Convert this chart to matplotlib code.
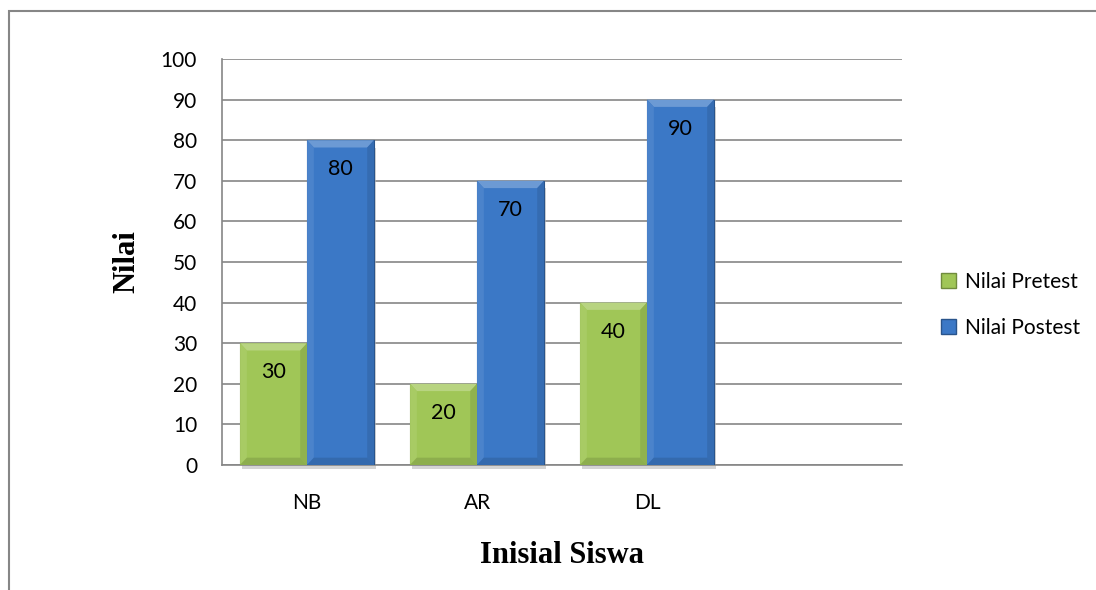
import numpy as np
import matplotlib.pyplot as plt
from matplotlib.patches import Polygon, Patch, Rectangle

siswa = ['NB', 'AR', 'DL']
pretest = [30, 20, 40]
postest = [80, 70, 90]

green = '#a0c657'
blue = '#3b78c6'

plt.rcParams['font.family'] = ['Lato', 'DejaVu Sans']

fig = plt.figure(figsize=(10.96, 5.90), dpi=100)
# thin frame around the chart area
fig.patches.append(Rectangle((9 / 1096, -0.1), 1.2, 1.1 - 11 / 590, transform=fig.transFigure,
                             fill=False, edgecolor='#868686', linewidth=1.5))
ax = fig.add_axes([0.2026, 0.2119, 0.6204, 0.6881])

x = np.arange(len(siswa))
w = 0.394


def lighten(c, f):
    c = np.array(plt.matplotlib.colors.to_rgb(c))
    return tuple(c + (1 - c) * f)


def darken(c, f):
    c = np.array(plt.matplotlib.colors.to_rgb(c))
    return tuple(c * (1 - f))


def bevel_bars(xs, vals, color):
    bars = ax.bar(xs, vals, width=w, color=color, edgecolor=darken(color, 0.3),
                  linewidth=0.8, zorder=3)
    bx, by = 0.04, 1.8
    for b in bars:
        x0, y1 = b.get_x(), b.get_height()
        x1 = x0 + b.get_width()
        # soft shadow under and to the right
        ax.add_patch(Rectangle((x1, -0.6), 0.012, y1 - 1.2, color='#b8b8b8', alpha=0.6,
                               zorder=2, linewidth=0))
        ax.add_patch(Rectangle((x0 + 0.01, -1.0), x1 - x0, 1.0, color='#b8b8b8', alpha=0.6,
                               zorder=2, linewidth=0, clip_on=False))
        faces = [
            ([(x0, y1), (x1, y1), (x1 - bx, y1 - by), (x0 + bx, y1 - by)], lighten(color, 0.25)),
            ([(x0, 0), (x0, y1), (x0 + bx, y1 - by), (x0 + bx, by)], lighten(color, 0.08)),
            ([(x1, 0), (x1, y1), (x1 - bx, y1 - by), (x1 - bx, by)], darken(color, 0.1)),
            ([(x0, 0), (x1, 0), (x1 - bx, by), (x0 + bx, by)], darken(color, 0.12)),
        ]
        for pts, fc in faces:
            ax.add_patch(Polygon(pts, closed=True, facecolor=fc, edgecolor='none', zorder=3.5))
    for xi, v in zip(xs, vals):
        ax.annotate(str(v), (xi, v), xytext=(0, -21), textcoords='offset points',
                    ha='center', va='center', fontsize=15.5, zorder=5)
    return bars


bevel_bars(x - w / 2, pretest, green)
bevel_bars(x + w / 2, postest, blue)

ax.set_xlim(-0.5, 3.5)
ax.set_ylim(0, 100)
ax.set_yticks(np.arange(0, 101, 10))
ax.set_xticks(x)
ax.set_xticklabels(siswa)
ax.tick_params(axis='x', length=0, pad=20, labelsize=15)
ax.tick_params(axis='y', length=0, labelsize=15, pad=18)
ax.yaxis.grid(True, color='#868686', linewidth=1.2, zorder=0)
ax.set_axisbelow(True)
for s in ['top', 'right']:
    ax.spines[s].set_visible(False)
ax.spines['left'].set_color('#868686')
ax.spines['bottom'].set_color('#868686')
ax.spines['left'].set_linewidth(1.2)
ax.spines['bottom'].set_linewidth(1.2)

ax.set_ylabel('Nilai', family='Liberation Serif', fontweight='bold', fontsize=22, labelpad=14)
ax.set_xlabel('Inisial Siswa', family='Liberation Serif', fontweight='bold', fontsize=22,
              labelpad=20)

handles = [Patch(facecolor=green, edgecolor=darken(green, 0.3)),
           Patch(facecolor=blue, edgecolor=darken(blue, 0.3))]
fig.legend(handles, ['Nilai Pretest', 'Nilai Postest'], loc='center left',
           bbox_to_anchor=(922 / 1096, 1 - 305 / 590), frameon=False, fontsize=15,
           handlelength=0.75, handleheight=0.75, handletextpad=0.4, labelspacing=1.25)

fig.savefig('out.png', dpi=100)
